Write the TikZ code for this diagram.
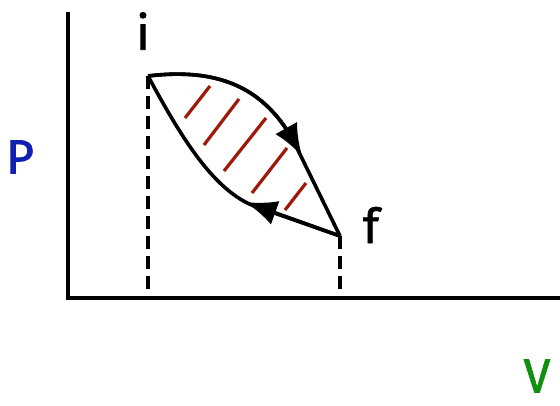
\documentclass[tikz,border=0pt]{standalone}
\usepackage{fontspec}
\newfontfamily\lblfont[FakeBold=1.5]{Fira Sans}
\usetikzlibrary{arrows.meta}
\definecolor{hatch}{HTML}{A01808}
\definecolor{pblue}{HTML}{1020B0}
\definecolor{vgreen}{HTML}{109010}
\tikzset{
  axis/.style={line width=4.2pt},
  guide/.style={line width=3.6pt, dash pattern=on 13pt off 7pt},
  proc/.style={line width=3.6pt, line join=round},
  tipped/.style={proc, -{Latex[length=32pt,width=25pt]}},
  hatchline/.style={hatch, line width=3.2pt},
  lbl/.style={font=\lblfont\fontsize{48}{52}\selectfont, inner sep=0pt}
}
\begin{document}
\begin{tikzpicture}[x=1pt,y=-1pt]
\useasboundingbox (0,0) rectangle (560,405);
% axes
\coordinate (O) at (68,298);
\coordinate (Ytop) at (68,12);
\coordinate (Xend) at (560,298);
\draw[axis] (Ytop) -- (O) -- (Xend);
% states
\coordinate (I) at (148,76);
\coordinate (F) at (340,236);
\coordinate (Ib) at (148,298);
\coordinate (Fb) at (340,298);
\coordinate (A1) at (302,156);
\coordinate (A2) at (245,202);
\draw[guide] (I) -- (Ib);
\draw[guide] (F) -- (Fb);
% hatch
\draw[hatchline] (185,118) -- (210,86);
\draw[hatchline] (204,145) -- (239,99);
\draw[hatchline] (224,171) -- (266,118);
\draw[hatchline] (252,193) -- (287,148);
\draw[hatchline] (285,210) -- (306,183);
% processes
\draw[proc] (I) .. controls (215,68) and (262,85) .. (293,140) -- (F);
\draw[tipped] (I) .. controls (215,68) and (262,85) .. (293,140) -- (A1);
\draw[proc] (F) -- (260,208) .. controls (215,195) and (180,135) .. (I);
\draw[tipped] (F) -- (A2);
% labels
\node[lbl] (li) at (143,31) {i};
\node[lbl] (lf) at (371,225) {f};
\node[lbl, text=pblue] (lp) at (20,157) {P};
\node[lbl, text=vgreen] (lv) at (537,376) {V};
\end{tikzpicture}
\end{document}
